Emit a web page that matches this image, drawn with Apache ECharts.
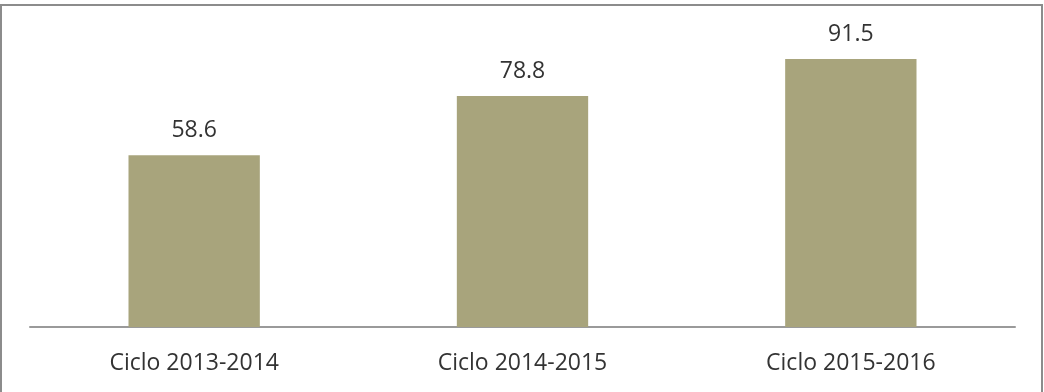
<!DOCTYPE html>
<html>
<head>
<meta charset="utf-8">
<script src="https://cdn.jsdelivr.net/npm/echarts@6/dist/echarts.min.js"></script>
<style>
  html, body { margin: 0; padding: 0; background: #ffffff; }
  #chart { width: 1044px; height: 392px; }
</style>
</head>
<body>
<div id="chart"></div>
<script>
// School cycles shown on the horizontal axis
const categories = ['Ciclo 2013-2014', 'Ciclo 2014-2015', 'Ciclo 2015-2016'];
// Value for each cycle
const values = [58.6, 78.8, 91.5];

const chart = echarts.init(document.getElementById('chart'), null, { renderer: 'canvas' });
const textColor = '#333333';
const fontFamily = '"Open Sans", "Noto Sans", sans-serif';

chart.setOption({
  animation: false,
  backgroundColor: '#ffffff',
  graphic: [{
    type: 'rect',
    shape: { x: 1, y: 5, width: 1041, height: 420 },
    style: { fill: 'none', stroke: '#8c8c8c', lineWidth: 2 },
    silent: true,
    z: 100
  }],
  grid: { left: 30, right: 29, top: 34, bottom: 65, containLabel: false },
  xAxis: {
    type: 'category',
    data: categories,
    axisLine: { show: true, lineStyle: { color: '#9a9a9a', width: 2 } },
    axisTick: { show: false },
    axisLabel: { color: textColor, fontSize: 23, fontFamily: fontFamily, margin: 25 }
  },
  yAxis: {
    type: 'value',
    min: 0,
    max: 100,
    show: false,
    splitLine: { show: false }
  },
  series: [{
    type: 'bar',
    data: values,
    barWidth: '40%',
    itemStyle: { color: '#a8a47c' },
    label: {
      show: true,
      position: 'top',
      distance: 13,
      color: textColor,
      fontSize: 23,
      fontFamily: fontFamily,
      formatter: p => p.value.toFixed(1)
    }
  }]
});
</script>
</body>
</html>
